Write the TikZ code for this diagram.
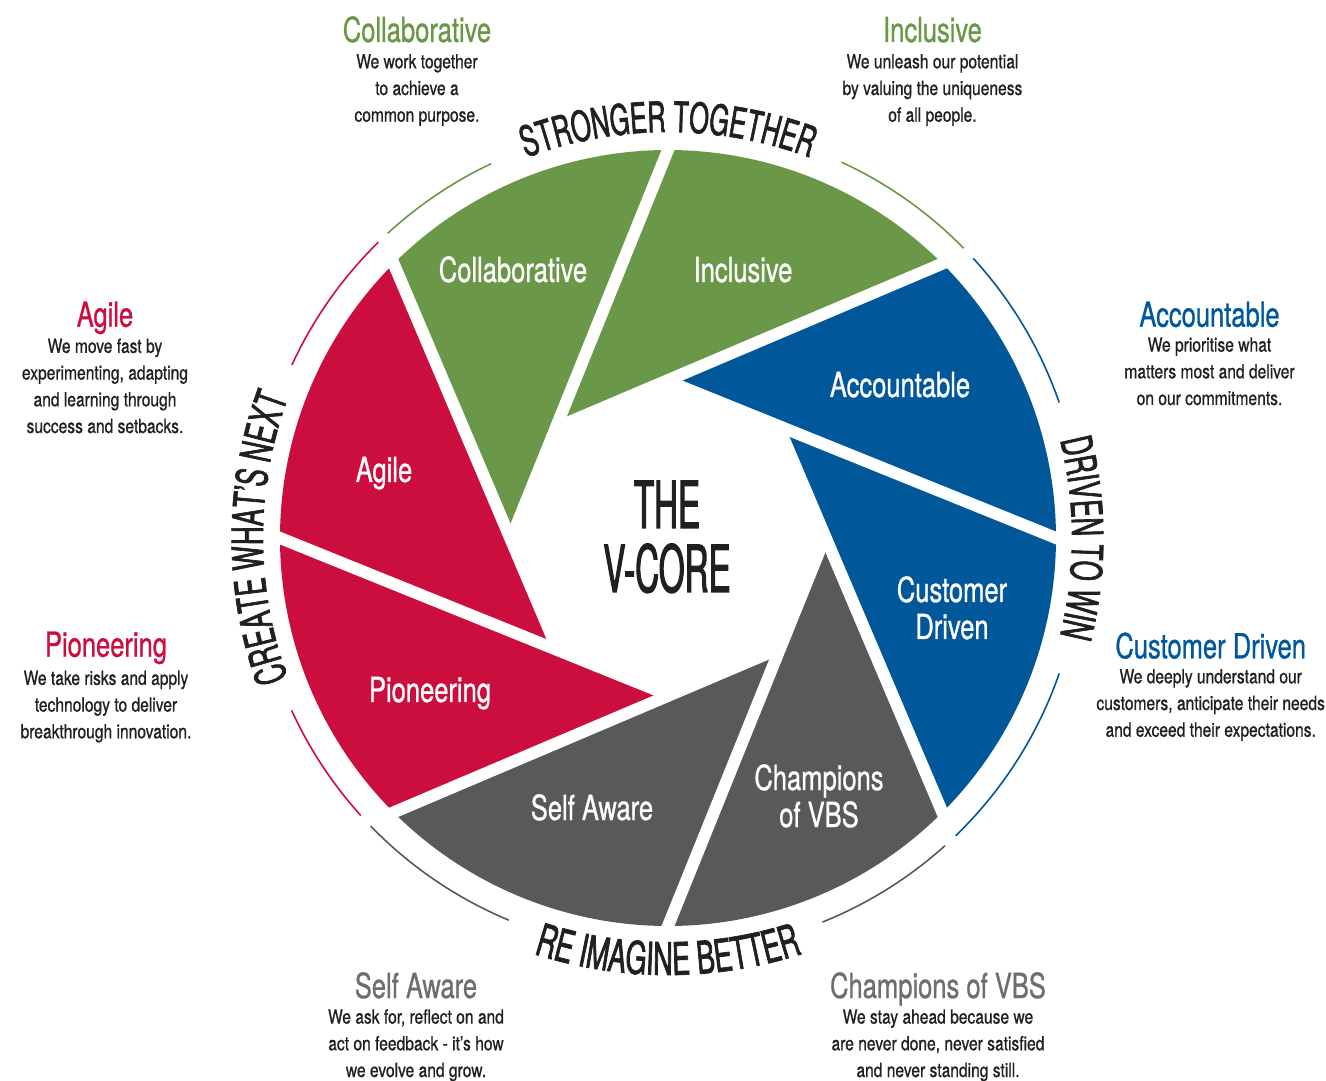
\documentclass[tikz,border=0pt]{standalone}
\usepackage{fontspec}
\setmainfont{TeX Gyre Heros}[FakeStretch=0.8,FakeBold=0.8]
\newfontfamily\headfont{TeX Gyre Heros}[FakeStretch=0.74,FakeBold=0.8]
\newfontfamily\capsfont{TeX Gyre Heros}[FakeStretch=0.6,FakeBold=1.6]
\newfontfamily\corefont{TeX Gyre Heros}[FakeStretch=0.51,FakeBold=1.6]
\usetikzlibrary{calc,decorations.text}
\definecolor{vgreen}{RGB}{106,152,72}
\definecolor{vred}{RGB}{204,14,63}
\definecolor{vblue}{RGB}{0,88,155}
\definecolor{vgray}{RGB}{88,89,91}
\definecolor{vlight}{RGB}{109,110,112}
\definecolor{vtext}{RGB}{35,31,32}
\tikzstyle{blade}=[white,font=\headfont\fontsize{34.5}{37}\selectfont,align=center,anchor=base,inner sep=0pt]
\tikzstyle{head}=[font=\headfont\fontsize{34.5}{34.5}\selectfont,anchor=base,inner sep=0pt]
\tikzstyle{body}=[vtext,font=\fontsize{19.5}{26.7}\selectfont,align=center,anchor=base,inner sep=0pt]
\tikzstyle{core}=[vtext,font=\corefont\fontsize{65}{64}\selectfont,align=center,anchor=base,inner sep=0pt]
\tikzstyle{gap}=[white,line width=12pt]
\tikzstyle{ring}=[line width=1.6pt]
\tikzstyle{motto}=[decorate,decoration={text along path,text align=center,text color=vtext}]

\begin{document}
\begin{tikzpicture}[x=1pt,y=1pt]
	\useasboundingbox (-668,538) rectangle (658,-543);
	\foreach \k/\col in {0/vblue, 1/vgreen, 2/vgreen, 3/vred, 4/vred, 5/vgray, 6/vgray, 7/vblue}
	\fill[\col] ({45*\k}:388) arc[start angle={45*\k}, end angle={45*\k+45}, radius=388] -- ({45*\k+90.5}:157.3) -- cycle;
	\foreach \k in {0,...,7}{
	\coordinate (p\k) at ({45*\k}:388);
	\coordinate (t\k) at ({45*\k+90.5}:157.3);
	\draw[gap] ($(p\k)!-14pt!(t\k)$) -- (t\k);
	}
\foreach \a/\b/\col in {115.3/132.6/vgreen, 44.4/65.2/vgreen, 19.1/42.5/vblue, -46/-19.1/vblue, -68.1/-48/vgray, 224.1/247.4/vgray, 204.6/222.1/vred, 134.4/155.3/vred}
	\draw[ring,\col] (\a:414) arc[start angle=\a, end angle=\b, radius=414];
	\path[motto,decoration={text={|\capsfont\fontsize{42}{42}\selectfont|STRONGER TOGETHER}}] (112:406) arc[start angle=112, end angle=68, radius=406];
	\path[motto,decoration={text={|\capsfont\fontsize{43}{43}\selectfont|DRIVEN TO WIN}}] (25:404) arc[start angle=25, end angle=-25, radius=404];
	\path[motto,decoration={text={|\capsfont\fontsize{45}{45}\selectfont|RE IMAGINE BETTER}}] (245:437) arc[start angle=245, end angle=295, radius=437];
	\path[motto,decoration={text={|\capsfont\fontsize{43}{43}\selectfont|CREATE WHAT’S NEXT}}] (205:405) arc[start angle=205, end angle=155, radius=405];
	\node[core] (vcore) at (-1,-54) {THE\\V-CORE};
	\foreach \tag/\x/\y/\name in {{col/-155/256/Collaborative}, {inc/75/256/Inclusive}, {acc/232/141/Accountable}, {cus/284/-101/Customer\\Driven}, {cha/151/-289/Champions\\of VBS}, {sel/-76/-282/Self Aware}, {pio/-238/-164/Pioneering}, {agi/-284/56/Agile}}
	\node[blade] (b\tag) at (\x,\y) {\name};
	\foreach \tag/\x/\y/\yb/\col/\name/\desc in {
	{col/-251/496/416.3/vgreen/Collaborative/{We work together\\to achieve a\\common purpose.}},
	{inc/264.5/496/416.3/vgreen/Inclusive/{We unleash our potential\\by valuing the uniqueness\\of all people.}},
	{agi/-563/211.3/105/vred/Agile/{We move fast by\\experimenting, adapting\\and learning through\\success and setbacks.}},
	{pio/-562/-118.7/-200.3/vred/Pioneering/{We take risks and apply\\technology to deliver\\breakthrough innovation.}},
	{acc/541.5/211.3/133/vblue/Accountable/{We prioritise what\\matters most and deliver\\on our commitments.}},
	{cus/542.7/-120.3/-198.7/vblue/Customer Driven/{We deeply understand our\\customers, anticipate their needs\\and exceed their expectations.}},
	{sel/-252/-460/-539/vlight/Self Aware/{We ask for, reflect on and\\act on feedback - it’s how\\we evolve and grow.}},
	{cha/270/-460/-539/vlight/Champions of VBS/{We stay ahead because we\\are never done, never satisfied\\and never standing still.}}}{
	\node[head,\col] (h\tag) at (\x,\y) {\name};
	\node[body] (d\tag) at (\x,\yb) {\desc};
	}
\end{tikzpicture}
\end{document}
